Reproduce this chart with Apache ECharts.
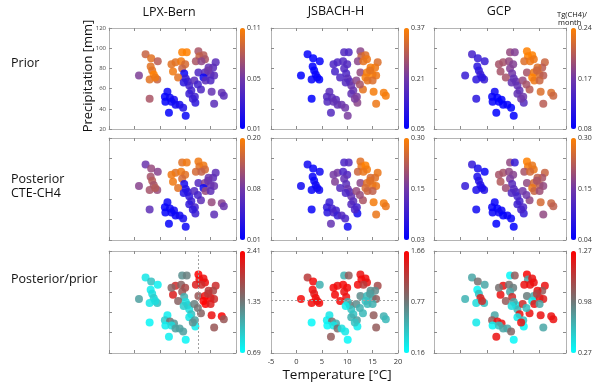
<!DOCTYPE html>
<html><head><meta charset="utf-8">
<script src="https://cdn.jsdelivr.net/npm/echarts@6/dist/echarts.min.js"></script>
<style>html,body{margin:0;padding:0;background:#fff}#c{width:600px;height:387px}</style>
</head><body><div id="c"></div>
<script>
// shared station coordinates
const temperature = [2.2,3.3,4.6,3.2,3.5,3.8,0.9,3.0,4.5,4.1,3.0,
  9.4,10.3,8.1,9.2,10.0,7.6,9.4,9.8,8.6,10.5,10.1,10.8,11.2,10.8,11.9,12.0,11.5,7.3,9.7,
  6.5,6.0,7.0,7.8,6.1,7.3,8.1,8.9,9.6,6.8,10.1,
  12.6,12.8,13.6,13.9,12.1,13.2,16.0,15.5,14.6,12.6,13.9,15.0,13.6,14.0,15.7,15.0,11.8,13.1,15.2,17.2,17.6,15.7,14.5,12.5];
const precipitation = [94,90,87,82,78,74,73,69,69,71,50,
  96,96,86,87,84,77,80,75,71,67,70,63,58,55,52,46,50,84,66,
  57,52,51,49,47,47,44,44,41,36,33,
  97,92,93,89,87,87,86,81,81,76,76,74,71,68,73,68,68,59,57,56,53,45,78,64];

const lpxPrior = [0.09,0.10,0.085,0.10,0.10,0.11,0.065,0.10,0.09,0.105,0.08,
  0.11,0.11,0.10,0.105,0.095,0.105,0.09,0.015,0.10,0.04,0.035,0.04,0.04,0.035,0.04,0.03,0.035,0.10,0.03,
  0.015,0.012,0.015,0.02,0.012,0.015,0.018,0.02,0.025,0.012,0.015,
  0.08,0.09,0.085,0.08,0.08,0.07,0.05,0.05,0.055,0.045,0.05,0.05,0.015,0.05,0.05,0.045,0.05,0.045,0.055,0.055,0.05,0.05,0.06,0.04];
const jsbachPrior = [0.06,0.05,0.06,0.05,0.05,0.06,0.05,0.06,0.05,0.06,0.05,
  0.17,0.16,0.16,0.17,0.17,0.15,0.17,0.16,0.16,0.19,0.18,0.2,0.2,0.19,0.22,0.24,0.22,0.16,0.17,
  0.18,0.17,0.18,0.18,0.17,0.19,0.19,0.2,0.21,0.17,0.22,
  0.24,0.3,0.33,0.35,0.24,0.34,0.33,0.35,0.36,0.25,0.36,0.37,0.36,0.34,0.35,0.33,0.24,0.34,0.36,0.36,0.36,0.35,0.34,0.27];
const gcpPrior = [0.13,0.12,0.12,0.11,0.11,0.12,0.12,0.11,0.12,0.11,0.11,
  0.18,0.17,0.19,0.18,0.17,0.19,0.17,0.16,0.19,0.16,0.15,0.15,0.15,0.15,0.16,0.14,0.16,0.19,0.15,
  0.09,0.085,0.08,0.08,0.085,0.08,0.08,0.085,0.08,0.08,0.08,
  0.24,0.24,0.24,0.23,0.22,0.23,0.21,0.2,0.22,0.19,0.23,0.22,0.24,0.23,0.2,0.21,0.18,0.2,0.22,0.22,0.21,0.2,0.21,0.19];
const lpxPost = [0.10,0.13,0.12,0.14,0.15,0.14,0.12,0.14,0.13,0.15,0.09,
  0.18,0.19,0.18,0.19,0.18,0.19,0.17,0.03,0.18,0.05,0.04,0.05,0.06,0.05,0.07,0.06,0.05,0.19,0.04,
  0.02,0.015,0.02,0.025,0.015,0.02,0.02,0.025,0.03,0.015,0.02,
  0.19,0.18,0.19,0.17,0.17,0.16,0.09,0.09,0.10,0.08,0.12,0.10,0.02,0.13,0.10,0.09,0.08,0.09,0.13,0.12,0.10,0.09,0.10,0.07];
const jsbachPost = [0.05,0.04,0.05,0.04,0.04,0.05,0.05,0.04,0.05,0.05,0.04,
  0.12,0.13,0.17,0.12,0.13,0.18,0.15,0.14,0.13,0.13,0.16,0.15,0.14,0.13,0.11,0.05,0.12,0.17,0.12,
  0.10,0.09,0.11,0.11,0.08,0.12,0.10,0.13,0.12,0.15,0.05,
  0.27,0.28,0.30,0.29,0.25,0.28,0.28,0.27,0.26,0.19,0.27,0.28,0.26,0.25,0.28,0.24,0.20,0.22,0.29,0.29,0.28,0.28,0.27,0.20];
const gcpPost = [0.10,0.07,0.05,0.07,0.08,0.08,0.10,0.07,0.08,0.07,0.06,
  0.20,0.10,0.22,0.20,0.19,0.23,0.18,0.14,0.21,0.12,0.14,0.12,0.12,0.11,0.13,0.10,0.12,0.22,0.13,
  0.05,0.05,0.04,0.05,0.05,0.06,0.04,0.05,0.05,0.04,0.04,
  0.30,0.29,0.28,0.28,0.22,0.26,0.25,0.22,0.24,0.20,0.26,0.24,0.28,0.25,0.20,0.21,0.17,0.20,0.26,0.25,0.24,0.20,0.22,0.17];
const lpxRatio = [0.85,1.1,0.8,0.8,0.9,1.0,1.3,0.85,1.1,0.9,0.75,
  1.4,1.5,2.1,1.7,1.9,2.2,1.8,1.2,1.7,1.2,0.9,0.9,1.1,0.85,1.3,0.8,1.4,1.7,1.0,
  0.8,1.0,1.6,1.4,0.8,0.9,1.3,1.3,1.3,0.8,0.75,
  2.4,2.3,2.3,2.3,2.2,2.1,2.1,1.9,2.0,1.8,2.3,2.4,2.4,2.4,2.1,2.2,1.5,1.7,2.3,2.4,1.8,1.8,2.0,1.6];
const jsbachRatio = [1.3,1.6,0.6,1.6,1.5,1.6,1.6,1.6,1.6,1.55,0.2,
  0.6,1.1,1.55,1.6,1.6,1.6,1.55,1.55,1.6,1.0,0.6,0.5,0.5,0.6,0.7,0.25,0.5,1.6,0.25,
  0.3,0.25,1.0,0.6,0.2,0.3,1.0,0.35,0.3,1.1,0.2,
  1.55,1.6,1.6,1.55,1.6,1.3,1.2,0.8,0.8,0.8,0.55,0.6,0.5,0.55,1.1,0.6,0.8,0.55,1.1,0.6,0.55,1.1,0.7,0.6];
const gcpRatio = [0.6,0.8,0.6,0.3,0.5,1.15,0.55,0.4,0.5,1.1,0.35,
  0.3,0.9,1.2,0.8,0.75,1.2,0.6,1.1,0.9,0.3,0.6,0.55,1.2,0.35,0.5,0.3,1.2,0.8,0.4,
  0.6,0.9,1.2,1.2,0.3,0.5,0.6,0.6,0.85,1.2,0.3,
  1.25,0.6,1.2,1.2,1.2,1.2,1.2,0.9,1.2,0.75,0.6,1.2,0.35,1.2,1.15,0.6,1.1,1.2,1.2,1.2,1.2,0.6,1.0,0.5];

const panelValues = [lpxPrior, jsbachPrior, gcpPrior, lpxPost, jsbachPost, gcpPost, lpxRatio, jsbachRatio, gcpRatio];
const colorMin = [0.01,0.05,0.08,0.01,0.03,0.04,0.69,0.16,0.27];
const colorMax = [0.11,0.37,0.24,0.20,0.30,0.30,2.41,1.66,1.27];
const colorbarLabels = [['0.01','0.05','0.11'],['0.05','0.21','0.37'],['0.08','0.17','0.24'],
  ['0.01','0.08','0.20'],['0.03','0.15','0.30'],['0.04','0.15','0.30'],
  ['0.69','1.35','2.41'],['0.16','0.77','1.66'],['0.27','0.98','1.27']];
const columnNames = ['LPX-Bern','JSBACH-H','GCP'];
const xTicks = {min:-5, max:20, interval:5};
const yTicks = {min:20, max:120, interval:20};
const refTemperatureLine = 12.5;   // dashed line, bottom-left
const refPrecipLine = 72;          // dashed line, bottom-middle

// layout
const colLeft = [109, 271, 434], colWidth = [127, 127, 132], cbLeft = [240, 404, 571];
const rowTop = [28, 138, 251], rowHeight = [101, 102, 102];
const FONT = '"Open Sans", "Noto Sans", sans-serif';
const flux = ['#0000ff', '#7038a8', '#ff8000'];
const ratio = ['#00ffff', '#6e7878', '#ff0000'];

const grid = [], xAxis = [], yAxis = [], series = [], visualMap = [];
for (let i = 0; i < 9; i++) {
  const r = Math.floor(i / 3), c = i % 3;
  grid.push({left: colLeft[c], top: rowTop[r], width: colWidth[c], height: rowHeight[r], containLabel: false});
}
for (let i = 0; i < 9; i++) {
  const r = Math.floor(i / 3), c = i % 3;
  grid.push({left: cbLeft[c], top: rowTop[r], width: 5, height: rowHeight[r], show: false});
}
const mkTick = () => ({show: true, inside: true, length: 3, lineStyle: {color: '#8c8c8c', width: 1}});
const mkLine = () => ({show: true, onZero: false, lineStyle: {color: '#b4b4b4', width: 1}});
for (let i = 0; i < 9; i++) {
  ['bottom', 'top'].forEach(pos => xAxis.push({gridIndex: i, type: 'value', position: pos,
    min: xTicks.min, max: xTicks.max, interval: xTicks.interval,
    axisLine: mkLine(), axisTick: mkTick(), splitLine: {show: false},
    axisLabel: {show: pos === 'bottom' && i === 7, fontSize: 7.5, color: '#333', margin: 5, fontFamily: FONT}}));
  ['left', 'right'].forEach(pos => yAxis.push({gridIndex: i, type: 'value', position: pos,
    min: yTicks.min, max: yTicks.max, interval: yTicks.interval,
    axisLine: mkLine(), axisTick: mkTick(), splitLine: {show: false},
    axisLabel: {show: pos === 'left' && i === 0, fontSize: 6, color: '#444', margin: 3, fontFamily: FONT}}));
}
for (let i = 0; i < 9; i++) {
  xAxis.push({gridIndex: 9 + i, type: 'value', show: false});
  yAxis.push({gridIndex: 9 + i, type: 'category', data: colorbarLabels[i], boundaryGap: false,
    position: 'right', axisLine: {show: false, onZero: false}, axisTick: {show: false}, splitLine: {show: false},
    axisLabel: {fontSize: 7, color: '#333', margin: 2, interval: 0, fontFamily: FONT}});
}
for (let i = 0; i < 9; i++) {
  const r = Math.floor(i / 3), c = i % 3;
  const vals = panelValues[i];
  const s = {type: 'scatter', xAxisIndex: 2 * i, yAxisIndex: 2 * i,
    data: temperature.map((t, k) => [t, precipitation[k], vals[k]]),
    symbolSize: 8, itemStyle: {opacity: 0.85}, silent: true};
  if (i === 6) s.markLine = {silent: true, symbol: 'none', label: {show: false},
    lineStyle: {color: '#a0a0a0', type: [2, 2], width: 1}, data: [{xAxis: refTemperatureLine}]};
  if (i === 7) s.markLine = {silent: true, symbol: 'none', label: {show: false},
    lineStyle: {color: '#a0a0a0', type: [2, 2], width: 1}, data: [{yAxis: refPrecipLine}]};
  series.push(s);
  visualMap.push({type: 'continuous', seriesIndex: i, dimension: 2, min: colorMin[i], max: colorMax[i],
    inRange: {color: r < 2 ? flux : ratio}, left: cbLeft[c], top: rowTop[r],
    itemWidth: 5, itemHeight: rowHeight[r], padding: 0, calculable: false, hoverLink: false,
    text: null, textStyle: {fontSize: 0}});
}

const txt = (x, y, text, size, align, extra) => Object.assign({type: 'text', x: x, y: y, silent: true,
  style: {text: text, font: size + 'px ' + FONT, fill: '#111', textAlign: align || 'center', textVerticalAlign: 'middle'}}, extra || {});
const graphic = [
  txt(169, 12, columnNames[0], 12.5),
  txt(336, 11, columnNames[1], 12.5),
  txt(499, 11, columnNames[2], 12.5),
  txt(557, 15, 'Tg(CH4)/', 7.5, 'left'),
  txt(558, 23, 'month', 7.5, 'left'),
  txt(11, 63, 'Prior', 12.5, 'left'),
  txt(11, 179, 'Posterior', 12.5, 'left'),
  txt(11, 193, 'CTE-CH4', 12.5, 'left'),
  txt(11, 279, 'Posterior/prior', 12.5, 'left'),
  txt(88, 76, 'Precipitation [mm]', 13, 'center', {rotation: Math.PI / 2}),
  txt(337, 375, 'Temperature [°C]', 13.5)
];

const chart = echarts.init(document.getElementById('c'), null, {renderer: 'canvas'});
chart.setOption({animation: false, backgroundColor: '#fff', textStyle: {fontFamily: FONT},
  grid, xAxis, yAxis, series, visualMap, graphic});
</script></body></html>
